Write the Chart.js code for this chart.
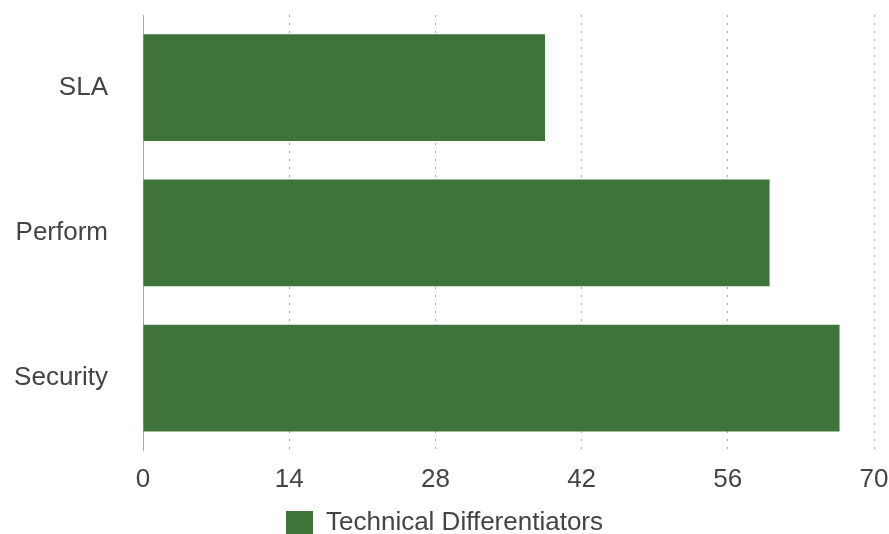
<!DOCTYPE html>
<html>
<head>
<meta charset="utf-8">
<script src="https://cdn.jsdelivr.net/npm/chart.js@4"></script>
<style>
  html, body { margin: 0; padding: 0; background: #ffffff; }
  #wrap { width: 889px; height: 534px; position: relative; }
</style>
</head>
<body>
<div id="wrap"><canvas id="c"></canvas></div>
<script>
const categories = ["SLA", "Perform", "Security"];
const seriesName = "Technical Differentiators";
const seriesValues = [38.5, 60, 66.7];
const tickMin = 0;
const tickMax = 70;
const tickStep = 14;

const FONT = "'Liberation Sans', Helvetica, Arial, sans-serif";
const TEXT = "#444444";
const BAR = "#3e743a";
const GRID = "#a8a8a8";

new Chart(document.getElementById("c"), {
  type: "bar",
  data: {
    labels: categories,
    datasets: [{
      label: seriesName,
      data: seriesValues,
      backgroundColor: BAR,
      borderWidth: 0,
      categoryPercentage: 0.8,
      barPercentage: 0.92
    }]
  },
  options: {
    indexAxis: "y",
    responsive: true,
    maintainAspectRatio: false,
    animation: false,
    layout: { padding: { top: 15, right: 0, left: 0, bottom: -12 } },
    plugins: {
      tooltip: { enabled: false },
      legend: {
        position: "bottom",
        labels: {
          boxWidth: 27,
          boxHeight: 24,
          padding: 2,
          color: TEXT,
          font: { family: FONT, size: 26 }
        }
      }
    },
    scales: {
      x: {
        min: tickMin,
        max: tickMax,
        ticks: {
          stepSize: tickStep,
          color: TEXT,
          padding: 13,
          font: { family: FONT, size: 26 }
        },
        grid: {
          color: GRID,
          lineWidth: 1,
          drawTicks: false
        },
        border: {
          display: false,
          dash: (ctx) => ctx.index === 0 ? [] : [2, 6]
        },
        afterFit: (scale) => {
          scale.paddingRight = 15;
          scale.paddingLeft = 0;
        }
      },
      y: {
        ticks: {
          color: TEXT,
          padding: 27,
          font: { family: FONT, size: 26 }
        },
        grid: { display: false },
        border: { display: true, color: GRID, width: 1 },
        afterFit: (scale) => {
          scale.width = 143;
          scale.paddingTop = 0;
          scale.paddingBottom = 0;
        }
      }
    }
  }
});
</script>
</body>
</html>
